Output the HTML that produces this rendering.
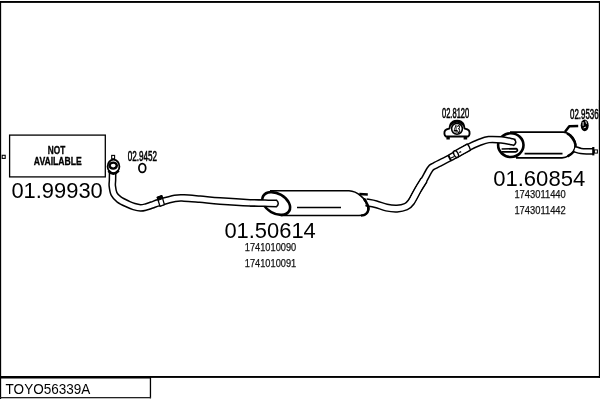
<!DOCTYPE html>
<html>
<head>
<meta charset="utf-8">
<title>TOYO56339A</title>
<style>
html,body{margin:0;padding:0;background:#fff;}
body{width:600px;height:400px;overflow:hidden;position:relative;font-family:"Liberation Sans",sans-serif;}
svg{position:absolute;left:0;top:0;display:block;will-change:transform;}
text{font-family:"Liberation Sans",sans-serif;fill:#000;}
.big{font-size:22px;}
.sm{font-size:11.4px;fill:#111;stroke:#111;stroke-width:0.25px;}
.nar{font-size:13.8px;stroke:#000;stroke-width:0.55px;}
.na{font-size:10px;font-weight:bold;stroke:#000;stroke-width:0.3px;}
</style>
</head>
<body>
<svg width="600" height="400" viewBox="0 0 600 400">
<rect width="600" height="400" fill="#fff"/>

<!-- frame -->
<rect x="0" y="1" width="600" height="1.9" fill="#000"/>
<rect x="0" y="1" width="1.15" height="398" fill="#000"/>
<rect x="598.85" y="1" width="1.15" height="377" fill="#000"/>
<rect x="0" y="376" width="600" height="1.9" fill="#000"/>
<rect x="0" y="376" width="151" height="2.5" fill="#000"/>
<rect x="149.8" y="376" width="1.3" height="22.3" fill="#000"/>
<rect x="0" y="397" width="151" height="1.3" fill="#222"/>
<text x="5.6" y="394" font-size="14.2" textLength="84.8" lengthAdjust="spacingAndGlyphs">TOYO56339A</text>

<!-- NOT AVAILABLE box -->
<rect x="9.6" y="135.1" width="95.7" height="41.8" fill="#fff" stroke="#000" stroke-width="1.3"/>
<rect x="2.2" y="155.3" width="3" height="3.1" fill="#fff" stroke="#000" stroke-width="1.1"/>
<text class="na" x="47.8" y="153.5" textLength="17.4" lengthAdjust="spacingAndGlyphs">NOT</text>
<text class="na" x="33.8" y="164.8" textLength="48" lengthAdjust="spacingAndGlyphs">AVAILABLE</text>
<text class="big" x="11.4" y="198.4" textLength="91.4" lengthAdjust="spacingAndGlyphs">01.99930</text>
<!-- front pipe -->
<path d="M112.60,171.00 C112.58,172.50 112.55,177.50 112.50,180.00 C112.45,182.50 112.03,183.67 112.30,186.00 C112.57,188.33 112.97,191.75 114.10,194.00 C115.23,196.25 116.78,197.80 119.10,199.50 C121.42,201.20 125.52,203.02 128.00,204.20 C130.48,205.38 131.92,205.98 134.00,206.60 C136.08,207.22 138.50,207.83 140.50,207.90 C142.50,207.97 144.08,207.48 146.00,207.00 C147.92,206.52 149.83,205.73 152.00,205.00 C154.17,204.27 155.17,203.70 159.00,202.60 C162.83,201.50 170.83,199.17 175.00,198.40 C179.17,197.63 179.83,197.87 184.00,198.00 C188.17,198.13 194.00,198.70 200.00,199.20 C206.00,199.70 211.67,200.40 220.00,201.00 C228.33,201.60 240.50,202.38 250.00,202.80 C259.50,203.22 272.50,203.38 277.00,203.50" fill="none" stroke="#000" stroke-width="7.80" stroke-linecap="butt" stroke-linejoin="round"/>
<path d="M112.60,171.00 C112.58,172.50 112.55,177.50 112.50,180.00 C112.45,182.50 112.03,183.67 112.30,186.00 C112.57,188.33 112.97,191.75 114.10,194.00 C115.23,196.25 116.78,197.80 119.10,199.50 C121.42,201.20 125.52,203.02 128.00,204.20 C130.48,205.38 131.92,205.98 134.00,206.60 C136.08,207.22 138.50,207.83 140.50,207.90 C142.50,207.97 144.08,207.48 146.00,207.00 C147.92,206.52 149.83,205.73 152.00,205.00 C154.17,204.27 155.17,203.70 159.00,202.60 C162.83,201.50 170.83,199.17 175.00,198.40 C179.17,197.63 179.83,197.87 184.00,198.00 C188.17,198.13 194.00,198.70 200.00,199.20 C206.00,199.70 211.67,200.40 220.00,201.00 C228.33,201.60 240.50,202.38 250.00,202.80 C259.50,203.22 272.50,203.38 277.00,203.50" fill="none" stroke="#fff" stroke-width="4.80" stroke-linecap="butt" stroke-linejoin="round"/>
<path d="M157.2,197.3 L161.8,195.6 L164.4,204.6 L160,206.4 Z" fill="#fff" stroke="#000" stroke-width="1.3" stroke-linejoin="round"/>
<path d="M157.2,197.3 L161.8,195.6 L162.6,198.6 L158.2,200.4 Z" fill="#000" stroke="#000" stroke-width="1"/>
<!-- flange -->
<rect x="111.7" y="155.4" width="2.9" height="3.4" fill="#fff" stroke="#000" stroke-width="1.1"/>
<ellipse cx="113.5" cy="166.5" rx="5.9" ry="6.8" fill="#fff" stroke="#000" stroke-width="1.8"/>
<ellipse cx="113.2" cy="165.6" rx="3.6" ry="3" fill="#fff" stroke="#000" stroke-width="2.4"/>
<path d="M108.6,170.8 Q113.2,176.6 118.6,170.6" fill="none" stroke="#000" stroke-width="2.8"/>
<ellipse cx="142.3" cy="168" rx="3.4" ry="4.4" fill="#fff" stroke="#000" stroke-width="1.7"/>
<text class="nar" x="127.8" y="160.8" textLength="29.2" lengthAdjust="spacingAndGlyphs">02.9452</text>
<!-- centre silencer -->
<path d="M270,190.8 L349,190.8 C353,191 357,192.6 360.5,195.6 C364,198.6 367,202.6 367.9,206 C368.8,210 367.5,213 365.3,214.5 C363.5,215.5 361,215.5 359,215.5 L281,215.5" fill="#fff" stroke="#000" stroke-width="1.6" stroke-linejoin="round"/>
<path d="M364,198.7 C367,202.6 368.8,207 368.3,210 C367.8,213 365.5,215.2 361,215.6" fill="none" stroke="#000" stroke-width="2.4"/>
<path d="M297,207.6 L341,207.6" stroke="#000" stroke-width="1.5"/>
<path d="M359.3,194 L367.8,194.5" stroke="#000" stroke-width="2.3"/>
<ellipse cx="276.2" cy="203.5" rx="15" ry="9.9" transform="rotate(30 276.2 203.5)" fill="#fff" stroke="#000" stroke-width="2.6"/>
<path d="M250.00,202.80 C252.50,202.87 260.50,203.08 265.00,203.20 C269.50,203.32 275.00,203.45 277.00,203.50" fill="none" stroke="#000" stroke-width="7.80" stroke-linecap="butt" stroke-linejoin="round"/>
<path d="M250.00,202.80 C252.50,202.87 260.50,203.08 265.00,203.20 C269.50,203.32 275.00,203.45 277.00,203.50" fill="none" stroke="#fff" stroke-width="4.80" stroke-linecap="butt" stroke-linejoin="round"/>
<path d="M276.5,200.3 Q280,203.5 276.5,206.7" fill="none" stroke="#000" stroke-width="1.5"/>
<text class="big" x="224.4" y="238.4" textLength="91.4" lengthAdjust="spacingAndGlyphs">01.50614</text>
<text class="sm" x="244.8" y="250.9" textLength="51.4" lengthAdjust="spacingAndGlyphs">1741010090</text>
<text class="sm" x="244.8" y="266.9" textLength="51.4" lengthAdjust="spacingAndGlyphs">1741010091</text>
<!-- rear silencer -->
<path d="M510,132.05 L563.5,132.05 C567.5,132.6 570.5,134.6 572.6,137.2 C574.6,140 575.9,143.6 575.5,147 C575,150.6 572.5,153.6 569,155.6 C566.5,157.2 564.5,157.9 562,157.9 L516,157.9" fill="#fff" stroke="#000" stroke-width="1.7" stroke-linejoin="round"/>
<path d="M567,133.4 C570.5,135 574.6,140 575.4,144.5 C576,149 573,153.5 567.5,156.4" fill="none" stroke="#000" stroke-width="2.5"/>
<path d="M524.6,153.65 L562.5,153.65" stroke="#000" stroke-width="1.6"/>
<path d="M564.9,132 L569.3,126.2 L578.2,126" fill="none" stroke="#000" stroke-width="2.5" stroke-linejoin="round"/>
<path d="M574.80,149.20 C575.83,149.50 578.80,150.63 581.00,151.00 C583.20,151.37 586.00,151.33 588.00,151.40 C590.00,151.47 592.17,151.40 593.00,151.40" fill="none" stroke="#000" stroke-width="6.80" stroke-linecap="butt" stroke-linejoin="round"/>
<path d="M574.80,149.20 C575.83,149.50 578.80,150.63 581.00,151.00 C583.20,151.37 586.00,151.33 588.00,151.40 C590.00,151.47 592.17,151.40 593.00,151.40" fill="none" stroke="#fff" stroke-width="3.80" stroke-linecap="butt" stroke-linejoin="round"/>
<path d="M593.3,147 L593.3,155.4" stroke="#000" stroke-width="2.2"/>
<rect x="594.4" y="149.9" width="3" height="3.2" fill="#fff" stroke="#000" stroke-width="1"/>
<ellipse cx="510.8" cy="145.1" rx="12.7" ry="11.9" fill="#fff" stroke="#000" stroke-width="2.6"/>
<path d="M501.6,149 L516,148.6 Q519,150.2 516,151.8 L501.6,151.8" fill="none" stroke="#000" stroke-width="1.7"/>
<!-- mid pipe -->
<path d="M366.00,202.30 C367.67,202.62 372.58,203.32 376.00,204.20 C379.42,205.08 383.00,206.87 386.50,207.60 C390.00,208.33 393.75,208.77 397.00,208.60 C400.25,208.43 403.63,207.70 406.00,206.60 C408.37,205.50 409.20,204.81 411.20,202.00 C413.20,199.19 415.87,193.42 418.00,189.75 C420.13,186.08 423.00,181.62 424.00,180.00" fill="none" stroke="#000" stroke-width="8.20" stroke-linecap="butt" stroke-linejoin="round"/>
<path d="M411.20,202.00 C412.33,199.96 415.87,193.42 418.00,189.75 C420.13,186.08 421.97,183.46 424.00,180.00 C426.03,176.54 428.43,171.38 430.20,169.00 C431.97,166.62 431.43,167.54 434.60,165.75 C437.78,163.96 445.43,160.29 449.25,158.25 C453.07,156.21 454.38,155.28 457.50,153.50 C460.62,151.72 464.35,149.45 468.00,147.60 C471.65,145.75 475.94,143.73 479.40,142.40 C482.86,141.07 485.11,140.02 488.75,139.60 C492.39,139.18 497.38,139.55 501.25,139.90 C505.12,140.25 509.74,141.27 512.00,141.70 C514.26,142.13 514.33,142.37 514.80,142.50" fill="none" stroke="#000" stroke-width="7.60" stroke-linecap="butt" stroke-linejoin="round"/>
<path d="M454.50,155.10 C455.58,154.48 458.58,152.75 461.00,151.40 C463.42,150.05 467.67,147.73 469.00,147.00" fill="none" stroke="#000" stroke-width="8.40" stroke-linecap="butt" stroke-linejoin="round"/>
<path d="M366.00,202.30 C367.67,202.62 372.58,203.32 376.00,204.20 C379.42,205.08 383.00,206.87 386.50,207.60 C390.00,208.33 393.75,208.77 397.00,208.60 C400.25,208.43 403.63,207.70 406.00,206.60 C408.37,205.50 409.20,204.81 411.20,202.00 C413.20,199.19 415.87,193.42 418.00,189.75 C420.13,186.08 423.00,181.62 424.00,180.00" fill="none" stroke="#fff" stroke-width="5.20" stroke-linecap="butt" stroke-linejoin="round"/>
<path d="M411.20,202.00 C412.33,199.96 415.87,193.42 418.00,189.75 C420.13,186.08 421.97,183.46 424.00,180.00 C426.03,176.54 428.43,171.38 430.20,169.00 C431.97,166.62 431.43,167.54 434.60,165.75 C437.78,163.96 445.43,160.29 449.25,158.25 C453.07,156.21 454.38,155.28 457.50,153.50 C460.62,151.72 464.35,149.45 468.00,147.60 C471.65,145.75 475.94,143.73 479.40,142.40 C482.86,141.07 485.11,140.02 488.75,139.60 C492.39,139.18 497.38,139.55 501.25,139.90 C505.12,140.25 509.74,141.27 512.00,141.70 C514.26,142.13 514.33,142.37 514.80,142.50" fill="none" stroke="#fff" stroke-width="4.60" stroke-linecap="butt" stroke-linejoin="round"/>
<path d="M454.50,155.10 C455.58,154.48 458.58,152.75 461.00,151.40 C463.42,150.05 467.67,147.73 469.00,147.00" fill="none" stroke="#fff" stroke-width="5.40" stroke-linecap="butt" stroke-linejoin="round"/>
<path d="M514.3,139.5 Q517.8,142.6 513.4,145.6" fill="none" stroke="#000" stroke-width="1.5"/>
<path d="M364,198.7 C367,202.6 368.8,207 368.3,210" fill="none" stroke="#000" stroke-width="2.4"/>
<path d="M448.2,155 L451,160.6" stroke="#000" stroke-width="2"/>
<path d="M451,158 L454.4,156.6" stroke="#000" stroke-width="1.1"/>
<ellipse cx="456" cy="154.1" rx="2.1" ry="3.5" transform="rotate(-27 456 154.1)" fill="#fff" stroke="#000" stroke-width="1.4"/>
<path d="M459.2,152.5 L461.2,151.6" stroke="#000" stroke-width="1.2"/>
<path d="M467.2,143.8 Q469.8,146.6 470.6,150.4" fill="none" stroke="#000" stroke-width="1.4"/>
<!-- hanger -->
<path d="M446,136.5 C444.2,135.8 443.9,132 445.2,130.4 C446.3,129.2 448,128.9 449.4,128.6 A7.6,7.6 0 0 1 464.6,128.6 C466,128.9 467.7,129.2 468.8,130.4 C470.1,132 469.8,135.8 468,136.5 Z" fill="#fff" stroke="#000" stroke-width="1.9" stroke-linejoin="round"/>
<path d="M450.6,125 A7.4,7.4 0 0 1 463.4,125" fill="none" stroke="#000" stroke-width="2.9"/>
<rect x="446.4" y="136.6" width="3.4" height="2.9" fill="#000"/>
<rect x="463.6" y="136.6" width="3.6" height="2.9" fill="#000"/>
<circle cx="457" cy="128.8" r="5.4" fill="#fff" stroke="#000" stroke-width="1.6"/>
<text x="453.8" y="132.6" font-size="10.6" font-weight="bold" stroke="#000" stroke-width="0.15" textLength="6.6" lengthAdjust="spacingAndGlyphs">43</text>
<text class="nar" x="442" y="118.1" textLength="27.2" lengthAdjust="spacingAndGlyphs">02.8120</text>
<ellipse cx="584.7" cy="125.3" rx="4" ry="5.9" fill="#000"/>
<path d="M583.1,122.4 L583.1,125.4 M585.8,121.2 L586.4,123.4 M584,127.8 L585.6,127.2" stroke="#fff" stroke-width="0.9" stroke-linecap="round"/>
<text class="nar" x="570" y="119" textLength="28.6" lengthAdjust="spacingAndGlyphs">02.9536</text>
<rect x="598.85" y="100" width="1.15" height="30" fill="#000"/>
<text class="big" x="493.2" y="186.1" textLength="92" lengthAdjust="spacingAndGlyphs">01.60854</text>
<text class="sm" x="514.4" y="197.8" textLength="51.4" lengthAdjust="spacingAndGlyphs">1743011440</text>
<text class="sm" x="514.4" y="214.3" textLength="51.4" lengthAdjust="spacingAndGlyphs">1743011442</text>
</svg>
</body>
</html>
